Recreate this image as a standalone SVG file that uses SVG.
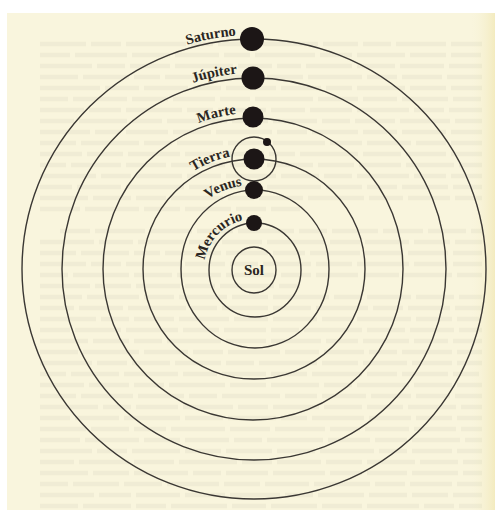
<svg xmlns="http://www.w3.org/2000/svg" xmlns:xlink="http://www.w3.org/1999/xlink" width="495" height="510" viewBox="0 0 495 510">
  <defs>
    <linearGradient id="gutter" x1="0" y1="0" x2="1" y2="0">
      <stop offset="0" stop-color="#f8f4dc" stop-opacity="0"/>
      <stop offset="1" stop-color="#f3ebbf"/>
    </linearGradient>
    <path id="pSat" d="M 20,269 A 234 234 0 0 1 254,35"/>
    <path id="pJup" d="M 58,269 A 196 196 0 0 1 254,73"/>
    <path id="pMar" d="M 98,269 A 156 156 0 0 1 254,113"/>
    <path id="pTie" d="M 139,269 A 115 115 0 0 1 254,154"/>
    <path id="pVen" d="M 170,269 A 84 84 0 0 1 254,185"/>
    <path id="pMer" d="M 204,269 A 50 50 0 0 1 254,219"/>
  </defs>
  <style>
    .orbit { fill: none; stroke: #3a3733; stroke-width: 1.4; }
    .planet { fill: #1c1616; }
    .label { font-family: "Liberation Serif", "Times New Roman", serif; font-weight: bold; font-size: 14.5px; fill: #2a2622; }
    .bleed { fill: none; stroke: #9a957c; stroke-opacity: 0.085; stroke-width: 4.5; }
  </style>

  <!-- page -->
  <g id="page">
    <rect x="0" y="0" width="495" height="510" fill="#ffffff"/>
    <rect x="7" y="13" width="488" height="497" fill="#f9f5dd"/>
    <rect x="470" y="13" width="25" height="497" fill="url(#gutter)"/>
    <g class="bleed">
      <path d="M40,44 H482" stroke-dasharray="46 5 30 5 60 5 22 5 40 5 55 5 35 5 28 5 50 5"/>
      <path d="M40,55 H482" stroke-dasharray="30 5 52 5 38 5 44 5 26 5 60 5 32 5 48 5 36 5"/>
      <path d="M40,66 H482" stroke-dasharray="52 5 28 5 40 5 58 5 34 5 24 5 46 5 38 5 44 5"/>
      <path d="M40,77 H482" stroke-dasharray="38 5 46 5 26 5 50 5 42 5 36 5 54 5 30 5 40 5"/>
      <path d="M40,88 H482" stroke-dasharray="60 5 34 5 44 5 28 5 50 5 40 5 26 5 48 5 36 5"/>
      <path d="M40,99 H482" stroke-dasharray="28 5 54 5 36 5 42 5 30 5 58 5 40 5 34 5 46 5"/>
      <path d="M40,110 H482" stroke-dasharray="44 5 32 5 56 5 26 5 48 5 34 5 42 5 52 5 30 5"/>
      <path d="M40,121 H482" stroke-dasharray="34 5 48 5 30 5 60 5 36 5 44 5 28 5 40 5 50 5"/>
      <path d="M40,132 H482" stroke-dasharray="50 5 26 5 42 5 38 5 56 5 30 5 46 5 34 5 44 5"/>
      <path d="M40,143 H482" stroke-dasharray="36 5 58 5 28 5 46 5 40 5 52 5 32 5 44 5 30 5"/>
      <path d="M40,154 H482" stroke-dasharray="42 5 36 5 52 5 30 5 44 5 26 5 58 5 38 5 40 5"/>
      <path d="M40,165 H482" stroke-dasharray="26 5 50 5 40 5 54 5 32 5 46 5 36 5 42 5 48 5"/>
      <path d="M40,176 H482" stroke-dasharray="56 5 30 5 46 5 34 5 50 5 38 5 28 5 52 5 32 5"/>
      <path d="M40,187 H482" stroke-dasharray="32 5 44 5 58 5 28 5 40 5 54 5 36 5 30 5 46 5"/>
      <path d="M40,198 H482" stroke-dasharray="48 5 38 5 30 5 52 5 26 5 44 5 56 5 34 5 42 5"/>
      <path d="M40,209 H300" stroke-dasharray="40 5 54 5 36 5 46 5 30 5 50 5"/>
      <path d="M60,231 H482" stroke-dasharray="30 5 50 5 42 5 36 5 56 5 28 5 46 5 40 5 38 5"/>
      <path d="M40,242 H482" stroke-dasharray="54 5 34 5 46 5 28 5 40 5 58 5 30 5 44 5 36 5"/>
      <path d="M40,253 H482" stroke-dasharray="36 5 48 5 26 5 56 5 42 5 32 5 50 5 38 5 40 5"/>
      <path d="M40,264 H482" stroke-dasharray="46 5 30 5 54 5 40 5 28 5 48 5 36 5 52 5 34 5"/>
      <path d="M40,275 H482" stroke-dasharray="28 5 56 5 38 5 44 5 50 5 30 5 42 5 36 5 48 5"/>
      <path d="M40,286 H300" stroke-dasharray="50 5 36 5 44 5 30 5 54 5 40 5"/>
      <path d="M40,297 H482" stroke-dasharray="42 5 52 5 30 5 48 5 36 5 56 5 28 5 44 5 38 5"/>
      <path d="M40,308 H482" stroke-dasharray="34 5 44 5 58 5 26 5 46 5 38 5 52 5 30 5 42 5"/>
      <path d="M40,319 H482" stroke-dasharray="56 5 28 5 40 5 50 5 34 5 44 5 30 5 54 5 36 5"/>
      <path d="M40,330 H482" stroke-dasharray="30 5 46 5 52 5 36 5 42 5 28 5 58 5 38 5 44 5"/>
      <path d="M40,341 H482" stroke-dasharray="48 5 36 5 28 5 54 5 40 5 50 5 32 5 46 5 34 5"/>
      <path d="M40,352 H482" stroke-dasharray="38 5 56 5 44 5 30 5 52 5 34 5 40 5 28 5 50 5"/>
      <path d="M40,363 H482" stroke-dasharray="52 5 30 5 38 5 46 5 28 5 58 5 36 5 44 5 40 5"/>
      <path d="M40,374 H482" stroke-dasharray="26 5 48 5 54 5 34 5 44 5 36 5 50 5 30 5 46 5"/>
      <path d="M40,385 H482" stroke-dasharray="44 5 40 5 30 5 56 5 36 5 48 5 28 5 52 5 38 5"/>
      <path d="M40,396 H482" stroke-dasharray="36 5 52 5 46 5 28 5 58 5 32 5 44 5 40 5 34 5"/>
      <path d="M40,407 H482" stroke-dasharray="58 5 28 5 42 5 50 5 30 5 46 5 38 5 36 5 48 5"/>
      <path d="M40,418 H482" stroke-dasharray="30 5 44 5 56 5 38 5 48 5 26 5 52 5 42 5 36 5"/>
      <path d="M40,429 H482" stroke-dasharray="46 5 38 5 32 5 54 5 40 5 50 5 30 5 44 5 42 5"/>
      <path d="M40,440 H482" stroke-dasharray="40 5 54 5 36 5 44 5 28 5 56 5 42 5 32 5 48 5"/>
      <path d="M40,451 H482" stroke-dasharray="52 5 30 5 48 5 36 5 46 5 38 5 54 5 28 5 40 5"/>
      <path d="M40,462 H482" stroke-dasharray="34 5 50 5 40 5 58 5 30 5 44 5 36 5 48 5 38 5"/>
      <path d="M40,473 H482" stroke-dasharray="48 5 36 5 54 5 28 5 42 5 52 5 32 5 40 5 46 5"/>
      <path d="M40,484 H482" stroke-dasharray="28 5 46 5 38 5 52 5 36 5 44 5 56 5 30 5 42 5"/>
      <path d="M40,495 H482" stroke-dasharray="54 5 32 5 44 5 40 5 50 5 28 5 46 5 38 5 36 5"/>
      <path d="M40,506 H482" stroke-dasharray="38 5 48 5 30 5 56 5 34 5 46 5 40 5 52 5 30 5"/>
    </g>
  </g>

  <!-- orbits -->
  <g id="connectors">
    <ellipse class="orbit" cx="254" cy="269" rx="232" ry="230"/>
    <ellipse class="orbit" cx="254" cy="269" rx="192" ry="191"/>
    <ellipse class="orbit" cx="253" cy="269" rx="150" ry="151"/>
    <ellipse class="orbit" cx="254" cy="269" rx="111" ry="110"/>
    <ellipse class="orbit" cx="255" cy="269" rx="74" ry="79"/>
    <ellipse class="orbit" cx="255" cy="270" rx="46" ry="47"/>
    <circle class="orbit" cx="254" cy="159" r="22"/>
  </g>

  <g id="sol">
    <ellipse class="orbit" cx="254" cy="270" rx="22" ry="23"/>
    <text class="label" x="254" y="275" text-anchor="middle" style="font-size:15px">Sol</text>
  </g>

  <g id="mercurio">
    <circle class="planet" cx="254" cy="223" r="8"/>
    <text class="label" text-anchor="end"><textPath xlink:href="#pMer" startOffset="67.4">Mercurio</textPath></text>
  </g>

  <g id="venus">
    <circle class="planet" cx="254" cy="190" r="9"/>
    <text class="label" text-anchor="end"><textPath xlink:href="#pVen" startOffset="119.9">Venus</textPath></text>
  </g>

  <g id="tierra">
    <circle class="planet" cx="254" cy="159" r="10.5"/>
    <circle class="planet" cx="267" cy="142" r="4"/>
    <text class="label" text-anchor="end"><textPath xlink:href="#pTie" startOffset="156.5">Tierra</textPath></text>
  </g>

  <g id="marte">
    <circle class="planet" cx="253" cy="117" r="10.5"/>
    <text class="label" text-anchor="end"><textPath xlink:href="#pMar" startOffset="227">Marte</textPath></text>
  </g>

  <g id="jupiter">
    <circle class="planet" cx="253" cy="78" r="11.5"/>
    <text class="label" text-anchor="end"><textPath xlink:href="#pJup" startOffset="290.8">Júpiter</textPath></text>
  </g>

  <g id="saturno">
    <circle class="planet" cx="252" cy="39" r="12"/>
    <text class="label" text-anchor="end"><textPath xlink:href="#pSat" startOffset="349.5">Saturno</textPath></text>
  </g>
</svg>
